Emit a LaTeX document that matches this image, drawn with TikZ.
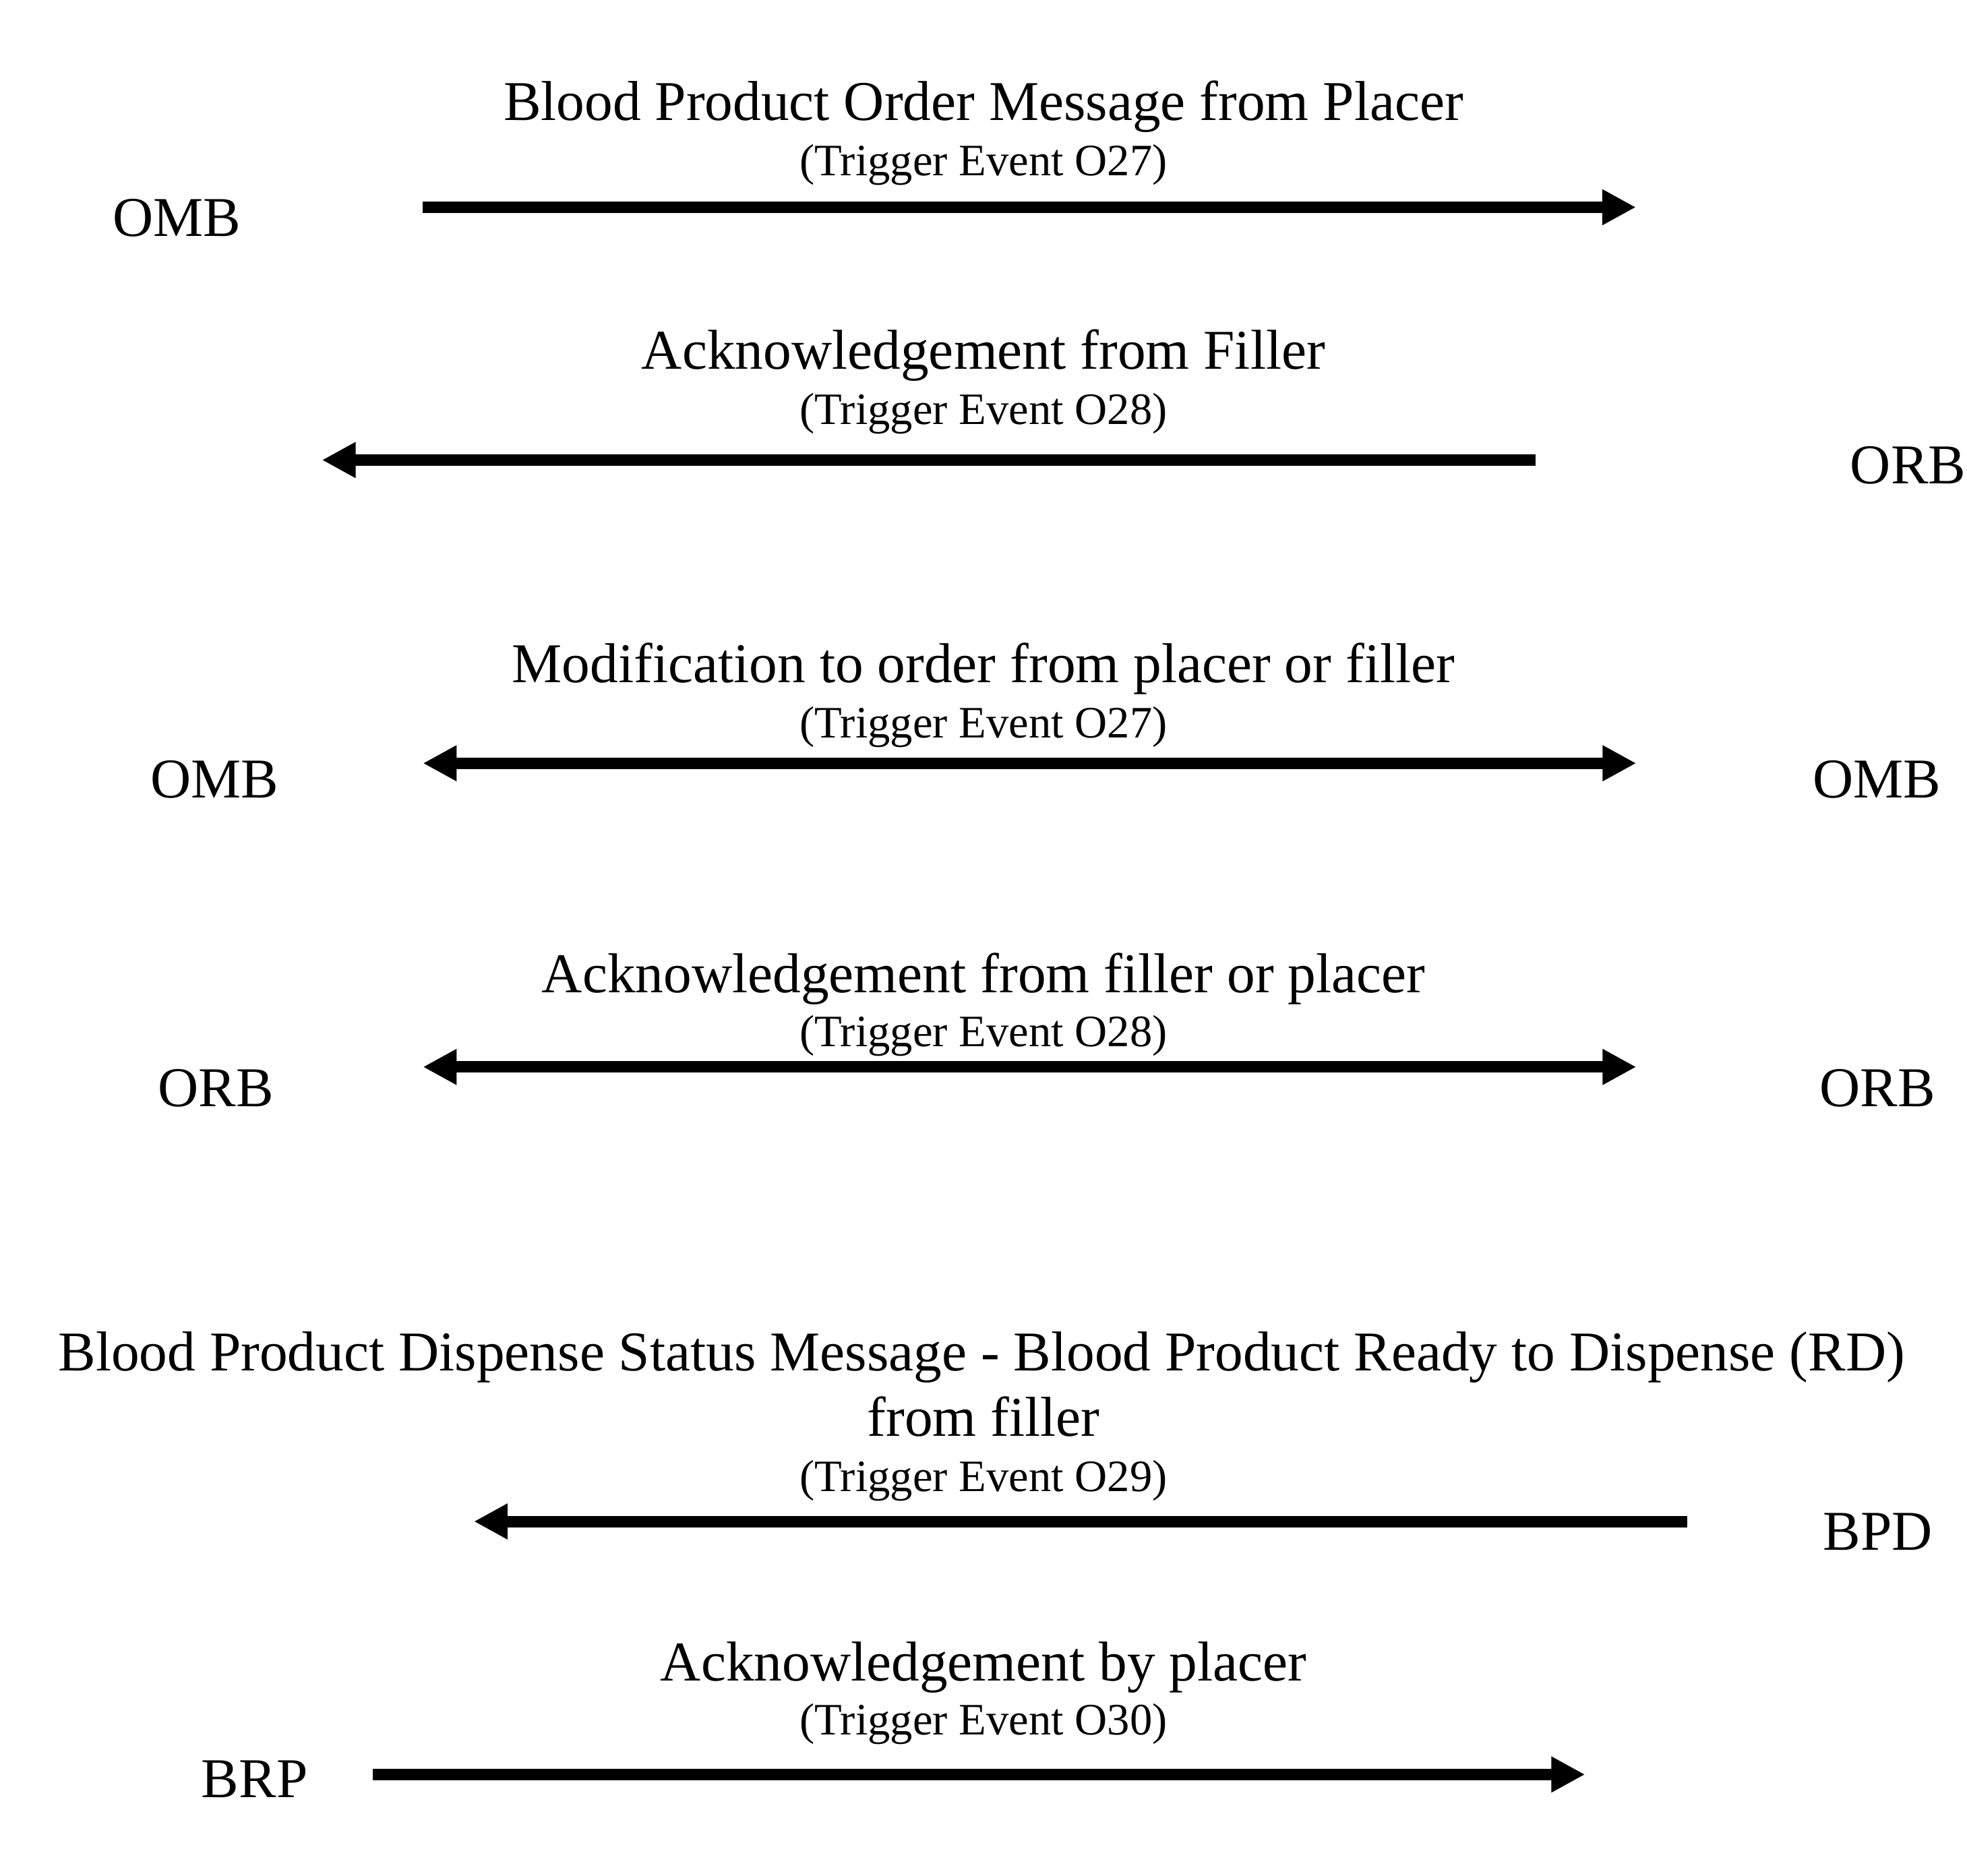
\documentclass[tikz,border=0pt]{standalone}
\usepackage{fontspec}
\setmainfont{Liberation Serif}
\usetikzlibrary{arrows.meta}

\tikzset{every picture/.style={line width=4.57pt}}
\tikzset{
	msgtext/.style={inner sep=0pt, anchor=base, font=\fontsize{22.4}{26}\selectfont},
	trigtext/.style={inner sep=0pt, anchor=base, font=\fontsize{17.9}{21}\selectfont},
	segtext/.style={inner sep=0pt, anchor=base, font=\fontsize{22.4}{26}\selectfont},
	onearrow/.style={-{Triangle[length=13.4pt,width=13.4pt]}},
	twoarrow/.style={{Triangle[length=13.4pt,width=13.4pt]}-{Triangle[length=13.4pt,width=13.4pt]}}
}

\begin{document}
\begin{tikzpicture}[x=0.5pt,y=0.5pt,yscale=-1,xscale=1]
		\useasboundingbox (0,0) rectangle (1568,1495);

		%Order message O27
		\node[msgtext] (ordermsg) at (784,96) {Blood Product Order Message from Placer};
		\node[trigtext] (ordertrig) at (784,140) {(Trigger Event O27)};
		\node[segtext] (ordersrc) at (141,188.4) {OMB};
		\coordinate (orderfrom) at (337,165.2);
		\coordinate (orderto) at (1304,165.2);
		\draw[onearrow] (orderfrom) -- (orderto);

		%Acknowledgement O28
		\node[msgtext] (ackmsg) at (784,294) {Acknowledgement from Filler};
		\node[trigtext] (acktrig) at (784,338) {(Trigger Event O28)};
		\node[segtext] (acksrc) at (1521,385.4) {ORB};
		\coordinate (ackfrom) at (1224,366.7);
		\coordinate (ackto) at (256.7,366.7);
		\draw[onearrow] (ackfrom) -- (ackto);

		%Modification O27
		\node[msgtext] (modmsg) at (784,544) {Modification to order from placer or filler};
		\node[trigtext] (modtrig) at (784,588) {(Trigger Event O27)};
		\node[segtext] (modleft) at (171,636) {OMB};
		\node[segtext] (modright) at (1496,636) {OMB};
		\coordinate (modfrom) at (337.2,608.4);
		\coordinate (modto) at (1304.3,608.4);
		\draw[twoarrow] (modfrom) -- (modto);

		%Acknowledgement of modification O28
		\node[msgtext] (modackmsg) at (784,791) {Acknowledgement from filler or placer};
		\node[trigtext] (modacktrig) at (784,834) {(Trigger Event O28)};
		\node[segtext] (modackleft) at (172,882) {ORB};
		\node[segtext] (modackright) at (1496.5,882) {ORB};
		\coordinate (modackfrom) at (337.2,850.5);
		\coordinate (modackto) at (1304.3,850.5);
		\draw[twoarrow] (modackfrom) -- (modackto);

		%Dispense status O29
		\node[msgtext] (rdmsg) at (782.5,1092.6) {Blood Product Dispense Status Message - Blood Product Ready to Dispense (RD)};
		\node[msgtext] (rdmsgb) at (784,1144.6) {from filler};
		\node[trigtext] (rdtrig) at (784,1189) {(Trigger Event O29)};
		\node[segtext] (rdsrc) at (1497,1235.6) {BPD};
		\coordinate (rdfrom) at (1345,1212.8);
		\coordinate (rdto) at (377.8,1212.8);
		\draw[onearrow] (rdfrom) -- (rdto);

		%Acknowledgement by placer O30
		\node[msgtext] (placermsg) at (784,1339.6) {Acknowledgement by placer};
		\node[trigtext] (placertrig) at (784,1382.7) {(Trigger Event O30)};
		\node[segtext] (placersrc) at (203,1433) {BRP};
		\coordinate (placerfrom) at (297,1414.5);
		\coordinate (placerto) at (1263.5,1414.5);
		\draw[onearrow] (placerfrom) -- (placerto);

\end{tikzpicture}
\end{document}
